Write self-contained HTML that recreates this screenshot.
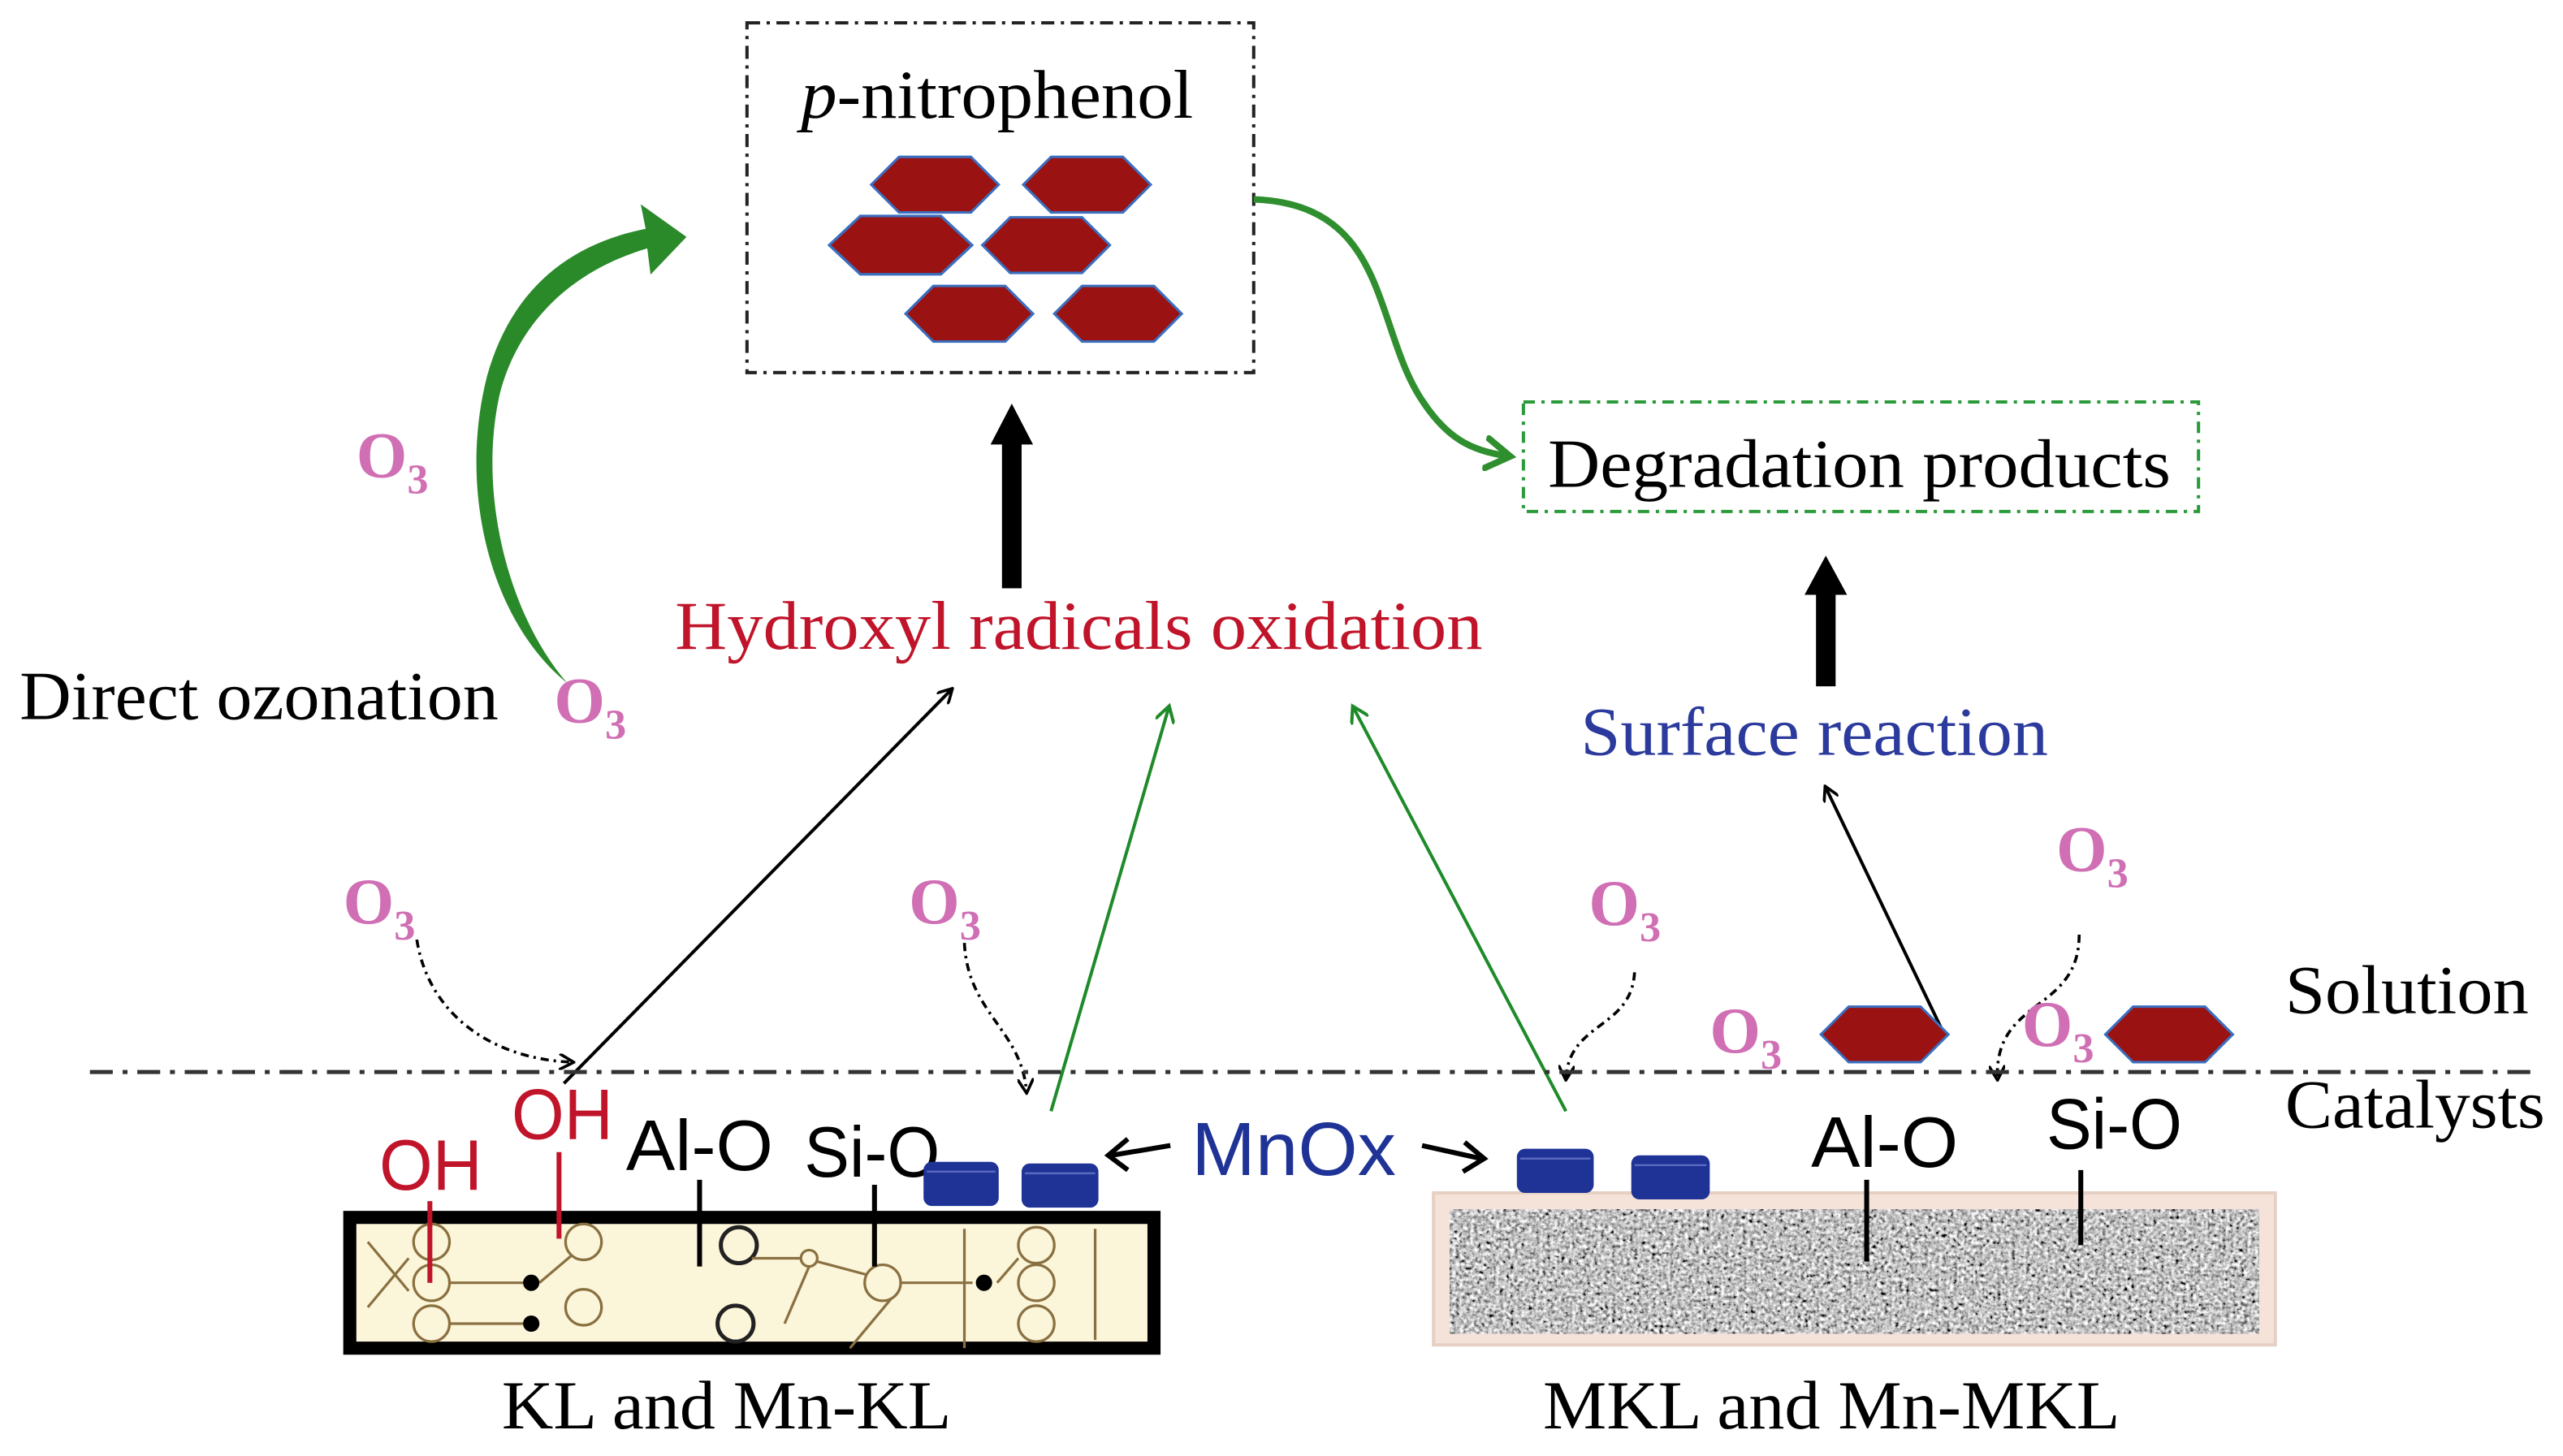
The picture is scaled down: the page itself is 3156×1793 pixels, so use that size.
<!DOCTYPE html>
<html><head><meta charset="utf-8"><style>
html,body{margin:0;padding:0;background:#fff;}
svg{display:block;}
.s{font-family:"Liberation Serif",serif;}
.a{font-family:"Liberation Sans",sans-serif;}
</style></head><body>
<svg width="3156" height="1793" viewBox="0 0 1568 891" preserveAspectRatio="none" xmlns="http://www.w3.org/2000/svg">
<defs>
<marker id="ab" markerWidth="10" markerHeight="10" refX="8" refY="5" orient="auto" markerUnits="userSpaceOnUse"><path d="M0,0 L9,5 L0,10" fill="none" stroke="#000" stroke-width="1.8"/></marker>
<marker id="ag" markerWidth="12" markerHeight="12" refX="9" refY="6" orient="auto" markerUnits="userSpaceOnUse"><path d="M0,0 L10,6 L0,12" fill="none" stroke="#1f8a2a" stroke-width="2"/></marker>
<marker id="ag2" markerWidth="22" markerHeight="22" refX="14" refY="11" orient="auto" markerUnits="userSpaceOnUse"><path d="M0,1 L16,11 L0,21" fill="none" stroke="#2f8f2f" stroke-width="4"/></marker>
<filter id="noise" x="0" y="0" width="100%" height="100%">
<feTurbulence type="fractalNoise" baseFrequency="0.45" numOctaves="2" seed="3"/>
<feColorMatrix type="matrix" values="0.33 0.33 0.33 0 0  0.33 0.33 0.33 0 0  0.33 0.33 0.33 0 0  0 0 0 0 1"/>
<feComponentTransfer><feFuncR type="linear" slope="3" intercept="-0.95"/><feFuncG type="linear" slope="3" intercept="-0.95"/><feFuncB type="linear" slope="3" intercept="-0.95"/></feComponentTransfer>
</filter>
<polygon id="hx" points="-39,0 -22,-17 22,-17 39,0 22,17 -22,17" fill="#9b1212" stroke="#3a6fc0" stroke-width="1.5"/>
</defs>

<rect x="457" y="14" width="310" height="214" fill="none" stroke="#222" stroke-width="2" stroke-dasharray="8,4,2,4"/>
<text x="490" y="72" class="s" font-size="42" textLength="240" lengthAdjust="spacingAndGlyphs"><tspan font-style="italic">p</tspan>-nitrophenol</text>
<use href="#hx" x="572" y="113"/>
<use href="#hx" x="665" y="113"/>
<g transform="translate(551,150) scale(1.12,1.05)"><use href="#hx"/></g>
<use href="#hx" x="640" y="150"/>
<use href="#hx" x="593" y="192"/>
<use href="#hx" x="684" y="192"/>

<path d="M347,418 C300,380 280,300 298,230 C312,180 345,150 395,140 L392,125 L420,145 L398,168 L396,152 C352,165 318,195 306,240 C292,300 310,375 347,418 Z" fill="#2a8a2a"/>
<text x="12" y="440" class="s" font-size="42" textLength="293" lengthAdjust="spacingAndGlyphs">Direct ozonation</text>

<path d="M767,122 C850,125 840,200 870,245 C885,268 900,276 922,279" fill="none" stroke="#2f8f2f" stroke-width="4" marker-end="url(#ag2)"/>
<rect x="932" y="246" width="413" height="67" fill="none" stroke="#2a9a3a" stroke-width="2" stroke-dasharray="7,4,2,4"/>
<text x="947" y="298" class="s" font-size="42" textLength="381" lengthAdjust="spacingAndGlyphs">Degradation products</text>

<rect x="613" y="270" width="12" height="90" fill="#000"/>
<polygon points="606,272 619,247 632,272" fill="#000"/>
<rect x="1111" y="362" width="12" height="58" fill="#000"/>
<polygon points="1104,364 1117,340 1130,364" fill="#000"/>

<text x="413" y="397" class="s" font-size="42" fill="#c0142a" textLength="494" lengthAdjust="spacingAndGlyphs">Hydroxyl radicals oxidation</text>
<text x="967" y="462" class="s" font-size="42" fill="#2b3a9c" textLength="286" lengthAdjust="spacingAndGlyphs">Surface reaction</text>

<line x1="345" y1="663" x2="582" y2="422" stroke="#000" stroke-width="2" marker-end="url(#ab)"/>
<line x1="643" y1="680" x2="715" y2="433" stroke="#1f8a2a" stroke-width="2" marker-end="url(#ag)"/>
<line x1="958" y1="680" x2="828" y2="433" stroke="#1f8a2a" stroke-width="2" marker-end="url(#ag)"/>
<line x1="1188" y1="630" x2="1117" y2="482" stroke="#000" stroke-width="2" marker-end="url(#ab)"/>

<g fill="none" stroke="#000" stroke-width="1.8" stroke-dasharray="5,3,1.5,3">
<path d="M255,575 C262,620 300,648 350,650" marker-end="url(#ab)"/>
<path d="M590,577 C592,620 625,630 628,668" marker-end="url(#ab)"/>
<path d="M1000,595 C998,630 960,625 958,660" marker-end="url(#ab)"/>
<path d="M1272,572 C1272,620 1220,610 1222,660" marker-end="url(#ab)"/>
</g>
<g class="s" font-size="40" fill="#d06fb4" font-weight="bold">
<text x="218" y="292">O<tspan font-size="26" dy="10">3</tspan></text>
<text x="339" y="442">O<tspan font-size="26" dy="10">3</tspan></text>
<text x="210" y="565">O<tspan font-size="26" dy="10">3</tspan></text>
<text x="556" y="565">O<tspan font-size="26" dy="10">3</tspan></text>
<text x="972" y="566">O<tspan font-size="26" dy="10">3</tspan></text>
<text x="1258" y="533">O<tspan font-size="26" dy="10">3</tspan></text>
<text x="1046" y="644">O<tspan font-size="26" dy="10">3</tspan></text>
<text x="1237" y="640">O<tspan font-size="26" dy="10">3</tspan></text>
</g>

<line x1="55" y1="656" x2="1552" y2="656" stroke="#333" stroke-width="2.5" stroke-dasharray="14,6,3,6"/>
<text x="1398" y="620" class="s" font-size="42" textLength="149" lengthAdjust="spacingAndGlyphs">Solution</text>
<text x="1398" y="690" class="s" font-size="42" textLength="159" lengthAdjust="spacingAndGlyphs">Catalysts</text>

<use href="#hx" x="1153" y="633"/>
<use href="#hx" x="1327" y="633"/>

<rect x="214" y="745" width="492" height="80" fill="#fbf5da" stroke="#000" stroke-width="8"/>
<g fill="none" stroke="#8a7040" stroke-width="1.6">
<circle cx="264" cy="760" r="11"/><circle cx="264" cy="785" r="11"/><circle cx="264" cy="810" r="11"/>
<circle cx="357" cy="760" r="11"/><circle cx="357" cy="800" r="11"/>
<circle cx="452" cy="762" r="11" stroke="#222" stroke-width="2.5"/><circle cx="450" cy="810" r="11" stroke="#222" stroke-width="2.5"/>
<circle cx="540" cy="785" r="11"/><circle cx="495" cy="770" r="5"/>
<circle cx="634" cy="762" r="11"/><circle cx="634" cy="785" r="11"/><circle cx="634" cy="810" r="11"/>
<line x1="275" y1="785" x2="320" y2="785"/><line x1="330" y1="785" x2="350" y2="768"/>
<line x1="275" y1="810" x2="320" y2="810"/>
<line x1="590" y1="752" x2="590" y2="825"/><line x1="670" y1="752" x2="670" y2="820"/>
<line x1="460" y1="770" x2="490" y2="770"/><line x1="500" y1="772" x2="530" y2="780"/>
<line x1="545" y1="795" x2="520" y2="825"/><line x1="480" y1="810" x2="495" y2="775"/>
<line x1="551" y1="785" x2="595" y2="785"/><line x1="610" y1="785" x2="623" y2="770"/>
<line x1="225" y1="760" x2="250" y2="790"/><line x1="225" y1="800" x2="250" y2="770"/>
</g>
<g fill="#000"><circle cx="325" cy="785" r="5"/><circle cx="325" cy="810" r="5"/><circle cx="602" cy="785" r="5"/></g>

<g class="a" font-size="44">
<text x="232" y="728" fill="#c0142a" textLength="63" lengthAdjust="spacingAndGlyphs">OH</text>
<text x="313" y="697" fill="#c0142a" textLength="62" lengthAdjust="spacingAndGlyphs">OH</text>
<text x="383" y="716" textLength="90" lengthAdjust="spacingAndGlyphs">Al-O</text>
<text x="492" y="720" textLength="83" lengthAdjust="spacingAndGlyphs">Si-O</text>
<text x="1108" y="714" textLength="90" lengthAdjust="spacingAndGlyphs">Al-O</text>
<text x="1252" y="703" textLength="83" lengthAdjust="spacingAndGlyphs">Si-O</text>
</g>
<g stroke-width="3">
<line x1="263" y1="735" x2="263" y2="785" stroke="#c0142a"/>
<line x1="342" y1="705" x2="342" y2="758" stroke="#c0142a"/>
<line x1="428" y1="722" x2="428" y2="775" stroke="#000"/>
<line x1="535" y1="725" x2="535" y2="775" stroke="#000"/>
</g>

<rect x="877" y="730" width="515" height="93" fill="#f5e2d8" stroke="#e6d0c4" stroke-width="2"/>
<rect x="887" y="740" width="495" height="76" fill="#999" filter="url(#noise)"/>
<g stroke-width="3">
<line x1="1142" y1="722" x2="1142" y2="772" stroke="#000"/>
<line x1="1273" y1="716" x2="1273" y2="762" stroke="#000"/>
</g>

<g fill="#1f3396">
<rect x="565" y="711" width="46" height="27" rx="5"/>
<rect x="625" y="712" width="47" height="27" rx="5"/>
<rect x="928" y="703" width="47" height="27" rx="5"/>
<rect x="998" y="707" width="48" height="27" rx="5"/>
</g>
<g stroke="#5a6ac0" stroke-width="1.2">
<line x1="567" y1="717" x2="609" y2="717"/><line x1="627" y1="718" x2="670" y2="718"/>
<line x1="930" y1="709" x2="973" y2="709"/><line x1="1000" y1="713" x2="1044" y2="713"/>
</g>
<text x="729" y="719" class="a" font-size="46" fill="#1f3396" textLength="125" lengthAdjust="spacingAndGlyphs">MnOx</text>
<g stroke="#000" stroke-width="3" fill="none">
<line x1="716" y1="701" x2="680" y2="707"/><path d="M690,697 L678,707 L690,716"/>
<line x1="870" y1="701" x2="906" y2="709"/><path d="M896,699 L908,709 L895,717"/>
</g>

<text x="307" y="874" class="s" font-size="42" textLength="275" lengthAdjust="spacingAndGlyphs">KL and Mn-KL</text>
<text x="944" y="874" class="s" font-size="42" textLength="353" lengthAdjust="spacingAndGlyphs">MKL and Mn-MKL</text>
</svg>
</body></html>
